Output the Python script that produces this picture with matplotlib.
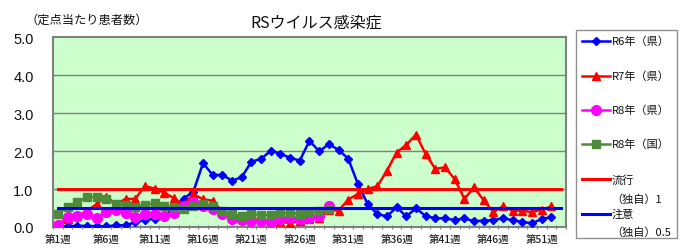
import matplotlib
matplotlib.use("Agg")
import matplotlib.pyplot as plt
import numpy as np
from matplotlib.lines import Line2D
from matplotlib.patches import Rectangle

plt.rcParams['font.family'] = ['Noto Sans CJK JP', 'DejaVu Sans']

weeks = list(range(1, 54))
week_labels = [f"第{w}週" if (w - 1) % 5 == 0 else "" for w in weeks]

r6_pref = [0.02, 0.02, 0.03, 0.03, 0.02, 0.02, 0.04, 0.05, 0.12, 0.19,
           0.22, 0.30, 0.50, 0.75, 0.93, 1.68, 1.37, 1.37, 1.22, 1.31,
           1.72, 1.79, 2.01, 1.93, 1.82, 1.75, 2.27, 1.99, 2.18, 2.03,
           1.80, 1.13, 0.61, 0.34, 0.28, 0.52, 0.28, 0.49, 0.29, 0.23,
           0.23, 0.18, 0.23, 0.15, 0.17, 0.18, 0.23, 0.18, 0.13, 0.10,
           0.21, 0.26]
r7_pref = [0.05, 0.20, 0.28, 0.42, 0.60, 0.80, 0.60, 0.74, 0.74, 1.08,
           1.01, 0.90, 0.76, 0.59, 0.86, 0.73, 0.69, 0.40, 0.30, 0.25,
           0.20, 0.20, 0.15, 0.13, 0.11, 0.15, 0.20, 0.24, 0.45, 0.43,
           0.72, 0.87, 1.00, 1.07, 1.48, 1.96, 2.16, 2.43, 1.92, 1.53,
           1.57, 1.26, 0.74, 1.04, 0.70, 0.40, 0.54, 0.43, 0.43, 0.39,
           0.46, 0.54]
r8_pref = [0.06, 0.27, 0.28, 0.34, 0.23, 0.39, 0.46, 0.36, 0.26, 0.35,
           0.34, 0.30, 0.36, 0.56, 0.67, 0.56, 0.48, 0.33, 0.20, 0.19,
           0.16, 0.17, 0.12, 0.20, 0.25, 0.22, 0.25, 0.30, 0.55]
r8_nat = [0.35, 0.53, 0.65, 0.79, 0.79, 0.75, 0.60, 0.58, 0.52, 0.59,
          0.62, 0.55, 0.52, 0.47, 0.54, 0.60, 0.55, 0.42, 0.33, 0.29,
          0.33, 0.32, 0.31, 0.36, 0.37, 0.34, 0.40, 0.41, 0.47]
epidemic_level = 1.0
caution_level = 0.5

series_labels = ["R6年（県）", "R7年（県）", "R8年（県）", "R8年（国）"]

fig = plt.figure(figsize=(6.9, 2.53), dpi=100)
ax = fig.add_axes([53/690, 25/253, 513/690, 190/253])
ax.set_facecolor('#CCFFCC')

c_blue = '#0000FF'
c_red = '#FF0000'
c_mag = '#FF00FF'
c_green = '#4F8A3B'

ax.plot(weeks[:len(r6_pref)], r6_pref, color=c_blue, lw=1.8, marker='D', ms=4.2, zorder=3)
ax.plot(weeks[:len(r7_pref)], r7_pref, color=c_red, lw=1.8, marker='^', ms=6, zorder=4)
ax.plot(weeks[:len(r8_pref)], r8_pref, color=c_mag, lw=1.8, marker='o', ms=7, zorder=5)
ax.plot(weeks[:len(r8_nat)], r8_nat, color=c_green, lw=1.8, marker='s', ms=6, zorder=6)
ax.plot(weeks, [epidemic_level] * len(weeks), color=c_red, lw=2.2, zorder=7)
ax.plot(weeks, [caution_level] * len(weeks), color=c_blue, lw=2.2, zorder=7)

ax.set_xlim(0.5, 53.5)
ax.set_ylim(0, 5)
ax.set_yticks(np.arange(0, 5.01, 1.0))
ax.set_yticklabels([f"{v:.1f}" for v in np.arange(0, 5.01, 1.0)],
                   family=['Liberation Sans'], fontsize=10.5, color='#111111')
ax.tick_params(axis='y', length=0, pad=14)
ax.set_xticks(weeks)
ax.set_xticklabels(week_labels, fontsize=7.5, color='#222222', fontweight='medium')
ax.tick_params(axis='x', length=0, pad=5)
ax.set_xticks(np.arange(0.5, 53.6, 1.0), minor=True)
ax.tick_params(axis='x', which='minor', length=3, direction='inout', color='#808080', width=0.8)
for y in [1, 2, 3, 4]:
    ax.axhline(y, color='#808080', lw=1.0, zorder=1)
for s in ax.spines.values():
    s.set_color('#808080')
    s.set_linewidth(1.5)

fig.text(316/690, 1 - 23/253, "RSウイルス感染症", ha='center', va='center', fontsize=11.5, color='#111111')
fig.text(25/690, 1 - 20/253, "（定点当たり患者数）", ha='left', va='center', fontsize=8.8, color='#111111')

# legend
lax = fig.add_axes([0, 0, 1, 1])
lax.set_xlim(0, 690)
lax.set_ylim(253, 0)
lax.axis('off')
lax.add_patch(Rectangle((575.7, 31), 101.3, 208, fill=False, edgecolor='#909090', lw=1))
handles = [(c_blue, 'D', 4.2), (c_red, '^', 6), (c_mag, 'o', 7), (c_green, 's', 6)]
ys = [42, 77, 111, 145]
for (col, mk, ms), y, lab in zip(handles, ys, series_labels):
    lax.plot([581.7, 610], [y, y], color=col, lw=1.8)
    lax.plot([596], [y], color=col, marker=mk, ms=ms)
    lax.text(611.5, y, lab, ha='left', va='center', fontsize=8, color='#111111')
lax.plot([581.7, 610], [180, 180], color=c_red, lw=2.2)
lax.text(611.5, 180, "流行", ha='left', va='center', fontsize=8, color='#111111')
lax.text(611.5, 200, "（独自）1", ha='left', va='center', fontsize=8, color='#111111')
lax.plot([581.7, 610], [215, 215], color=c_blue, lw=2.2)
lax.text(611.5, 215, "注意", ha='left', va='center', fontsize=8, color='#111111')
lax.text(611.5, 233, "（独自）0.5", ha='left', va='center', fontsize=8, color='#111111')

fig.savefig("out.png", dpi=100)
